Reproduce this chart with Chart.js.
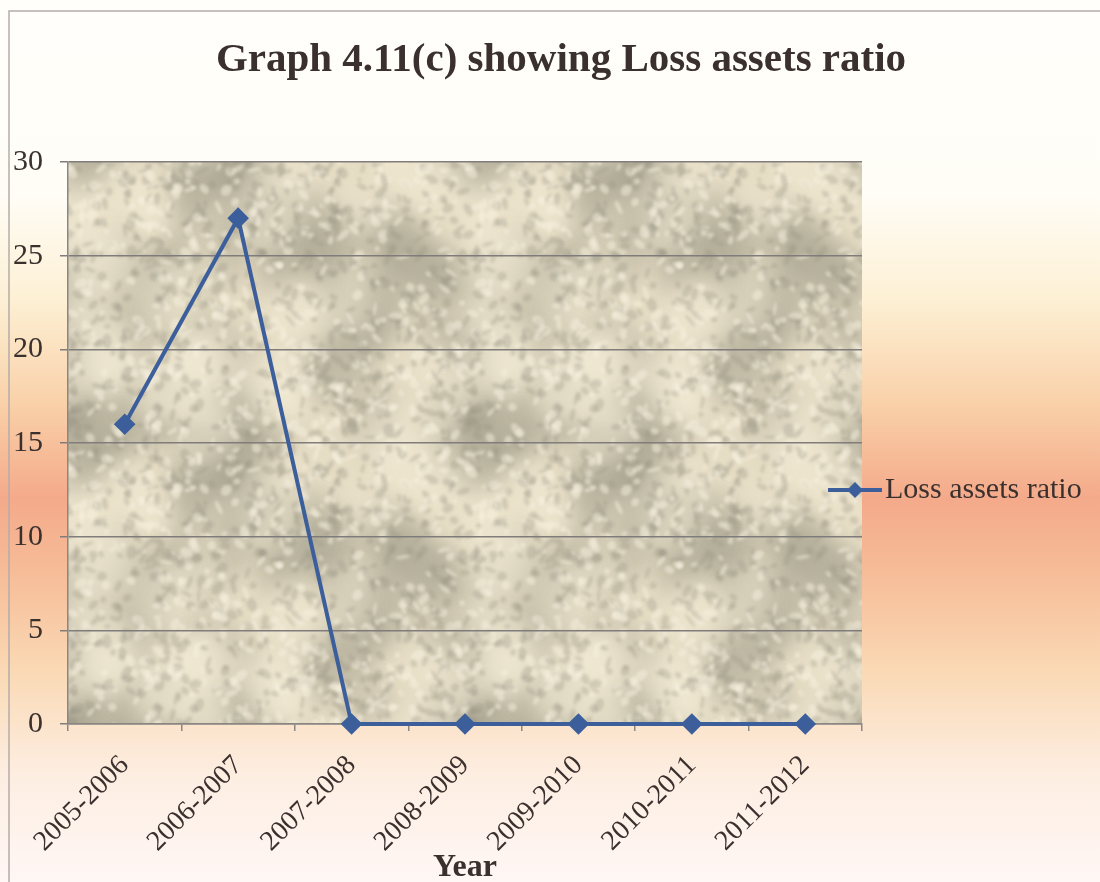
<!DOCTYPE html>
<html><head><meta charset="utf-8">
<script src="https://cdn.jsdelivr.net/npm/chart.js@4.4.1/dist/chart.umd.min.js"></script>
<style>html,body{margin:0;padding:0;background:#fff}#wrap{width:1100px;height:882px;position:relative}</style>
</head><body><div id="wrap"><canvas id="c" width="1100" height="882"></canvas></div>
<script>
const chartTitle = 'Graph 4.11(c) showing Loss assets ratio';
const xAxisTitle = 'Year';
const seriesLabel = 'Loss assets ratio';
const categories = ['2005-2006','2006-2007','2007-2008','2008-2009','2009-2010','2010-2011','2011-2012'];
const lossAssetsRatio = [16, 27, 0, 0, 0, 0, 0];
const yTickValues = [0, 5, 10, 15, 20, 25, 30];

const SERIF = "'Liberation Serif', 'Times New Roman', serif";
const LINE_COLOR = '#3c5f9c';
const TEXT_COLOR = '#3a302e';

// deterministic, seamless texture (style only)
function h(i){ const x = Math.sin(i*12.9898 + 78.233) * 43758.5453; return x - Math.floor(x); }
function makeTexture(){
  const w = 400, hh = 300;
  const cv = document.createElement('canvas'); cv.width = w; cv.height = hh;
  const g = cv.getContext('2d');
  g.fillStyle = '#e6ddc5'; g.fillRect(0,0,w,hh);
  function blob(x,y,rx,ry,rot,col){
    for (const dx of [-w,0,w]) for (const dy of [-hh,0,hh]) {
      g.fillStyle = col; g.beginPath(); g.ellipse(x+dx, y+dy, rx, ry, rot, 0, Math.PI*2); g.fill();
    }
  }
  g.filter = 'blur(10px)';
  for (let i=0;i<40;i++) blob(h(i)*w, h(i+500)*hh, 25+h(i+900)*45, 15+h(i+1300)*30, h(i+77)*3, 'rgba(155,150,132,0.28)');
  for (let i=0;i<25;i++) blob(h(i+8000)*w, h(i+8500)*hh, 20+h(i+8900)*35, 15+h(i+9300)*25, h(i+97)*3, 'rgba(247,240,218,0.40)');
  g.filter = 'blur(1.5px)';
  for (let i=0;i<1100;i++){
    const dark = h(i+3000) < 0.55;
    blob(h(i+2000)*w, h(i+4000)*hh, 2+h(i+5000)*6, 1.5+h(i+6000)*3.5, h(i+7000)*3,
         dark ? 'rgba(150,146,128,0.30)' : 'rgba(248,242,224,0.50)');
  }
  return cv;
}
const texture = makeTexture();

const decorPlugin = {
  id: 'decor',
  beforeDraw(chart){
    const ctx = chart.ctx, W = chart.width, H = chart.height, a = chart.chartArea;
    ctx.save();
    const gr = ctx.createLinearGradient(0,0,0,H);
    gr.addColorStop(0.00,'#fffefa');
    gr.addColorStop(0.22,'#fffdf6');
    gr.addColorStop(0.34,'#fdf0d4');
    gr.addColorStop(0.46,'#f9d0a8');
    gr.addColorStop(0.565,'#f4aa8a');
    gr.addColorStop(0.64,'#f6ba96');
    gr.addColorStop(0.76,'#fad9b4');
    gr.addColorStop(0.88,'#fdeee2');
    gr.addColorStop(1.00,'#fff7f5');
    ctx.fillStyle = gr; ctx.fillRect(0,0,W,H);
    ctx.strokeStyle = '#b5aca8'; ctx.lineWidth = 1.5;
    ctx.beginPath(); ctx.moveTo(9,H); ctx.lineTo(9,11); ctx.lineTo(W,11); ctx.stroke();
    const pat = ctx.createPattern(texture,'repeat');
    ctx.fillStyle = pat; ctx.fillRect(a.left, a.top, a.right-a.left, a.bottom-a.top);
    ctx.fillStyle = TEXT_COLOR; ctx.font = 'bold 41px ' + SERIF;
    ctx.textAlign = 'center'; ctx.textBaseline = 'middle';
    ctx.fillText(chartTitle, 561, 60);
    ctx.restore();
  },
  afterDraw(chart){
    const ctx = chart.ctx;
    const ds = chart.data.datasets[0];
    const x0 = 828, x1 = 882, y = 490;
    ctx.save();
    ctx.strokeStyle = ds.borderColor; ctx.lineWidth = ds.borderWidth;
    ctx.beginPath(); ctx.moveTo(x0,y); ctx.lineTo(x1,y); ctx.stroke();
    ctx.fillStyle = ds.pointBackgroundColor;
    const r = ds.pointRadius, cx = (x0+x1)/2;
    ctx.beginPath(); ctx.moveTo(cx, y-r); ctx.lineTo(cx+r, y); ctx.lineTo(cx, y+r); ctx.lineTo(cx-r, y); ctx.closePath(); ctx.fill();
    ctx.fillStyle = TEXT_COLOR; ctx.font = '30px ' + SERIF;
    ctx.textAlign = 'left'; ctx.textBaseline = 'middle';
    ctx.fillText(ds.label, 885, y);
    ctx.restore();
  }
};

new Chart(document.getElementById('c'), {
  type: 'line',
  data: {
    labels: categories,
    datasets: [{
      label: seriesLabel,
      data: lossAssetsRatio,
      borderColor: LINE_COLOR,
      backgroundColor: LINE_COLOR,
      pointBackgroundColor: LINE_COLOR,
      pointBorderColor: LINE_COLOR,
      borderWidth: 4,
      pointStyle: 'rectRot',
      pointRadius: 8,
      pointHoverRadius: 8,
      tension: 0,
      clip: false
    }]
  },
  options: {
    responsive: false,
    animation: false,
    layout: { padding: { left: 0, right: 238, top: 162, bottom: 0 } },
    plugins: { legend: { display: false }, title: { display: false }, tooltip: { enabled: false } },
    scales: {
      x: {
        offset: true,
        clip: false,
        grid: { display: true, offset: true, drawOnChartArea: false, drawTicks: true, tickLength: 7, color: '#8a8684', lineWidth: 1.5 },
        border: { display: true, color: '#8a8684', width: 1.5 },
        ticks: { color: TEXT_COLOR, font: { family: SERIF, size: 28 }, minRotation: 45, maxRotation: 45, autoSkip: false, padding: 18 },
        title: { display: true, text: xAxisTitle, color: TEXT_COLOR, font: { family: SERIF, size: 32, weight: 'bold' }, padding: { top: 0, bottom: -5 } },
        afterFit(s){ s.height = 158; }
      },
      y: {
        min: 0, max: 30,
        clip: false,
        afterBuildTicks(s){ s.ticks = yTickValues.map(v => ({ value: v })); },
        grid: { color: '#807c7c', lineWidth: 1.5, tickLength: 8, drawTicks: true },
        border: { display: true, color: '#8a8684', width: 1.5 },
        ticks: { color: TEXT_COLOR, font: { family: SERIF, size: 30 }, padding: 17 },
        afterFit(s){ s.width = 68; }
      }
    }
  },
  plugins: [decorPlugin]
});
</script>
</body></html>
